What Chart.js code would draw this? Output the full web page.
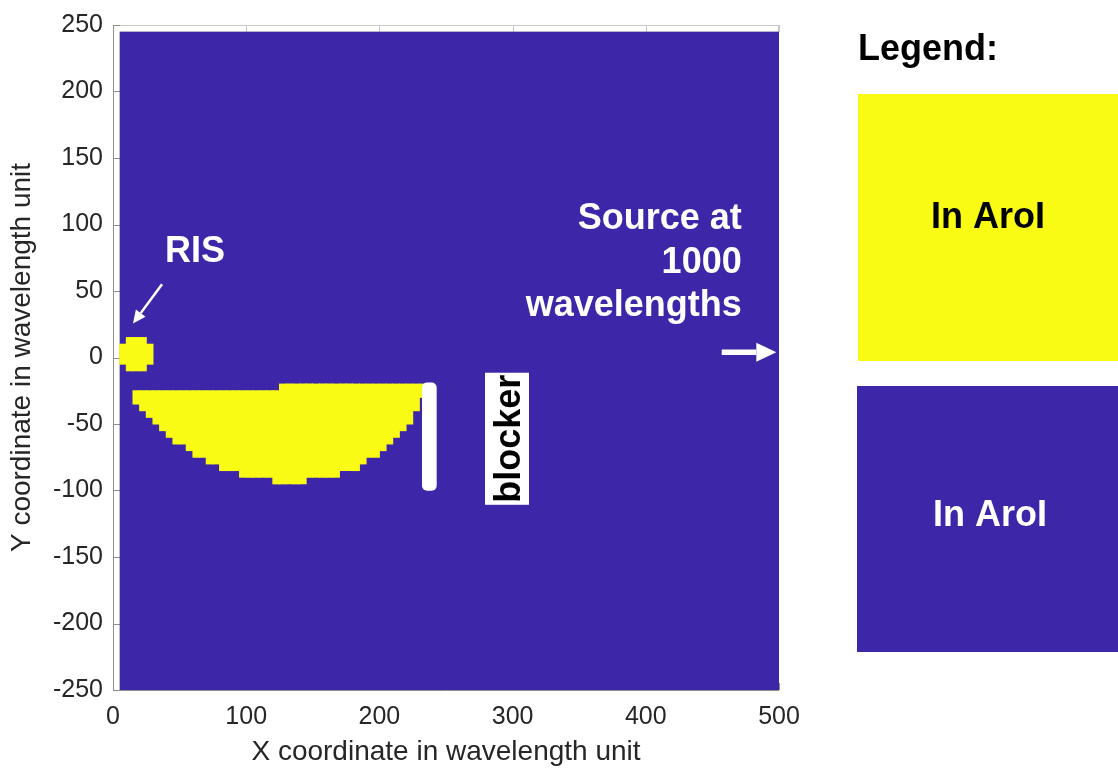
<!DOCTYPE html>
<html>
<head>
<meta charset="utf-8">
<script src="https://cdn.jsdelivr.net/npm/chart.js@4.4.1/dist/chart.umd.min.js"></script>
<style>
html,body{margin:0;padding:0;background:#ffffff;}
#wrap{position:relative;width:1118px;height:769px;}
</style>
</head>
<body>
<div id="wrap"><canvas id="c" width="1118" height="769"></canvas></div>
<script>
// ---------------- data ----------------
const xTicks = [0, 100, 200, 300, 400, 500];
const yTicks = [-250, -200, -150, -100, -50, 0, 50, 100, 150, 200, 250];

// extent of the blue (not in AroI) field
const fieldX = [5, 500];
const fieldY = [-250, 245];

// big yellow region: one column per 5-unit cell (centre x, lower and upper edge)
const mainX = [17.5, 22.5, 27.5, 32.5, 37.5, 42.5, 47.5, 52.5, 57.5, 62.5, 67.5,
               72.5, 77.5, 82.5, 87.5, 92.5, 97.5, 102.5, 107.5, 112.5, 117.5, 122.5,
               127.5, 132.5, 137.5, 142.5, 147.5, 152.5, 157.5, 162.5, 167.5, 172.5,
               177.5, 182.5, 187.5, 192.5, 197.5, 202.5, 207.5, 212.5, 217.5, 222.5,
               227.5, 232.5];
const mainBottom = [-35, -40, -45, -50, -55, -60, -65, -65, -70, -75, -75,
                    -80, -80, -85, -85, -85, -90, -90, -90, -90, -90, -95,
                    -95, -95, -95, -95, -90, -90, -90, -90, -90, -85,
                    -85, -85, -80, -75, -75, -70, -65, -60, -55, -50,
                    -40, -30];
const mainTop = [-25, -25, -25, -25, -25, -25, -25, -25, -25, -25, -25,
                 -25, -25, -25, -25, -25, -25, -25, -25, -25, -25, -25,
                 -20, -20, -20, -20, -20, -20, -20, -20, -20, -20,
                 -20, -20, -20, -20, -20, -20, -20, -20, -20, -20,
                 -20, -20];

// small yellow blob at the RIS
const risX = [7.5, 12.5, 17.5, 22.5, 27.5];
const risBottom = [-5, -10, -10, -10, -5];
const risTop = [10, 15, 15, 15, 10];

// white blocker bar
const blockerX = [237.5];
const blockerBottom = [-100];
const blockerTop = [-19];

const legendTitle = 'Legend:';
const legendLabels = ['In AroI', 'In AroI'];

// ---------------- styles ----------------
const YELLOW = '#F9FB15';
const BLUE = '#3E26A8';
const TXT = '#262626';
const FONT = '"Liberation Sans", Arial, Helvetica, sans-serif';

const annotations = [
  {text: 'RIS', x: 61.5, y: 71.6, align: 'center'},
  {text: 'Source at', x: 472, y: 96.3, align: 'right'},
  {text: '1000', x: 472, y: 63.3, align: 'right'},
  {text: 'wavelengths', x: 472, y: 31.1, align: 'right'}
];
const arrows = [
  {from: [36.8, 55.1], to: [15, 25.5], width: 2.5, head: 13, headW: 12},
  {from: [457, 4], to: [498, 4], width: 5.5, head: 20, headW: 19}
];
const blockerLabel = {text: 'blocker', x: 295.8, y: -61.1};

function toCols(xs, lo, hi) {
  return xs.map((x, i) => ({x: x, y: [lo[i], hi[i]]}));
}

function drawArrow(ctx, x1, y1, x2, y2, w, hl, hw) {
  const ang = Math.atan2(y2 - y1, x2 - x1);
  const bx = x2 - hl * Math.cos(ang), by = y2 - hl * Math.sin(ang);
  ctx.save();
  ctx.strokeStyle = '#fff';
  ctx.fillStyle = '#fff';
  ctx.lineWidth = w;
  ctx.beginPath();
  ctx.moveTo(x1, y1);
  ctx.lineTo(bx, by);
  ctx.stroke();
  ctx.beginPath();
  ctx.moveTo(x2, y2);
  ctx.lineTo(bx + hw / 2 * Math.sin(ang), by - hw / 2 * Math.cos(ang));
  ctx.lineTo(bx - hw / 2 * Math.sin(ang), by + hw / 2 * Math.cos(ang));
  ctx.closePath();
  ctx.fill();
  ctx.restore();
}

const fieldPlugin = {
  id: 'field',
  beforeDatasetsDraw(chart) {
    const {ctx, chartArea: a, scales: {x, y}} = chart;
    ctx.save();
    ctx.lineWidth = 1;
    // light top / right box edges
    ctx.strokeStyle = '#c8c8c8';
    ctx.beginPath();
    ctx.moveTo(a.left, a.top + 0.5); ctx.lineTo(a.right, a.top + 0.5);
    ctx.moveTo(a.right - 0.5, a.top); ctx.lineTo(a.right - 0.5, a.bottom);
    yTicks.forEach(v => {
      const p = Math.round(y.getPixelForValue(v)) + 0.5;
      ctx.moveTo(a.right, p); ctx.lineTo(a.right - 7, p);
    });
    xTicks.forEach(v => {
      const p = Math.round(x.getPixelForValue(v)) + 0.5;
      ctx.moveTo(p, a.top); ctx.lineTo(p, a.top + 7);
    });
    ctx.stroke();
    // left / bottom axis lines with inward ticks
    ctx.strokeStyle = '#8f8f8f';
    ctx.beginPath();
    ctx.moveTo(a.left + 0.5, a.top); ctx.lineTo(a.left + 0.5, a.bottom + 0.5);
    ctx.lineTo(a.right, a.bottom + 0.5);
    yTicks.forEach(v => {
      const p = Math.round(y.getPixelForValue(v)) + 0.5;
      ctx.moveTo(a.left, p); ctx.lineTo(a.left + 7, p);
    });
    xTicks.forEach(v => {
      const p = Math.round(x.getPixelForValue(v)) + 0.5;
      ctx.moveTo(p, a.bottom); ctx.lineTo(p, a.bottom - 7);
    });
    ctx.stroke();
    // blue field
    const x0 = x.getPixelForValue(fieldX[0]), x1 = x.getPixelForValue(fieldX[1]);
    const y0 = y.getPixelForValue(fieldY[1]), y1 = y.getPixelForValue(fieldY[0]);
    ctx.fillStyle = BLUE;
    ctx.fillRect(x0, y0, x1 - x0, y1 - y0);
    ctx.restore();
  },
  afterDatasetsDraw(chart) {
    const {ctx, scales: {x, y}} = chart;
    ctx.save();
    ctx.font = 'bold 36px ' + FONT;
    ctx.fillStyle = '#ffffff';
    ctx.textBaseline = 'alphabetic';
    annotations.forEach(n => {
      ctx.textAlign = n.align;
      ctx.fillText(n.text, x.getPixelForValue(n.x), y.getPixelForValue(n.y));
    });
    arrows.forEach(r => drawArrow(ctx,
      x.getPixelForValue(r.from[0]), y.getPixelForValue(r.from[1]),
      x.getPixelForValue(r.to[0]), y.getPixelForValue(r.to[1]), r.width, r.head, r.headW));
    // blocker label
    const cx = x.getPixelForValue(blockerLabel.x), cy = y.getPixelForValue(blockerLabel.y);
    const tw = ctx.measureText(blockerLabel.text).width;
    ctx.translate(cx, cy);
    ctx.rotate(-Math.PI / 2);
    ctx.fillStyle = '#ffffff';
    ctx.fillRect(-tw / 2 - 2, -22, tw + 4, 44);
    ctx.fillStyle = '#000000';
    ctx.textAlign = 'center';
    ctx.textBaseline = 'alphabetic';
    ctx.fillText(blockerLabel.text, 0, 13);
    ctx.restore();
  },
  afterDraw(chart) {
    const ctx = chart.ctx;
    ctx.save();
    ctx.font = 'bold 36px ' + FONT;
    ctx.textBaseline = 'alphabetic';
    ctx.textAlign = 'left';
    ctx.fillStyle = '#000000';
    ctx.fillText(legendTitle, 858, 60);
    ctx.fillStyle = YELLOW;
    ctx.fillRect(858, 94, 260, 267);
    ctx.fillStyle = BLUE;
    ctx.fillRect(857, 386, 261, 266);
    ctx.textAlign = 'center';
    ctx.fillStyle = '#000000';
    ctx.fillText(legendLabels[0], 988, 228);
    ctx.fillStyle = '#ffffff';
    ctx.fillText(legendLabels[1], 990, 526);
    ctx.restore();
  }
};

const barCommon = {grouped: false, barPercentage: 1, categoryPercentage: 1, borderWidth: 0, inflateAmount: 0.5};

new Chart(document.getElementById('c'), {
  type: 'bar',
  data: {
    datasets: [
      Object.assign({label: 'RIS', data: toCols(risX, risBottom, risTop), backgroundColor: YELLOW, order: 2}, barCommon),
      Object.assign({label: 'In AroI', data: toCols(mainX, mainBottom, mainTop), backgroundColor: YELLOW, order: 1}, barCommon),
      {label: 'blocker', data: toCols(blockerX, blockerBottom, blockerTop), backgroundColor: '#ffffff',
       grouped: false, barThickness: 14, borderWidth: 0, borderRadius: 5, borderSkipped: false, order: 0}
    ]
  },
  options: {
    responsive: false,
    animation: false,
    devicePixelRatio: 1,
    layout: {padding: {top: 23, right: 339, left: 0, bottom: 0}},
    plugins: {legend: {display: false}, tooltip: {enabled: false}},
    scales: {
      x: {
        type: 'linear', min: 0, max: 500, offset: false,
        grid: {display: false, drawTicks: false},
        border: {display: false},
        afterBuildTicks: s => { s.ticks = xTicks.map(v => ({value: v})); },
        afterFit: s => { s.height = 79; },
        ticks: {autoSkip: false, maxRotation: 0, padding: 12, color: TXT, font: {family: FONT, size: 25}},
        title: {display: true, text: 'X coordinate in wavelength unit', color: TXT,
                font: {family: FONT, size: 28}, padding: {top: 0, bottom: 0}}
      },
      y: {
        type: 'linear', min: -250, max: 250,
        grid: {display: false, drawTicks: false},
        border: {display: false},
        afterBuildTicks: s => { s.ticks = yTicks.map(v => ({value: v})); },
        afterFit: s => { s.width = 113; },
        ticks: {autoSkip: false, padding: 10, color: TXT, font: {family: FONT, size: 25}},
        title: {display: true, text: 'Y coordinate in wavelength unit', color: TXT,
                font: {family: FONT, size: 28}, padding: {top: 5, bottom: 0}}
      }
    }
  },
  plugins: [fieldPlugin]
});
</script>
</body>
</html>
